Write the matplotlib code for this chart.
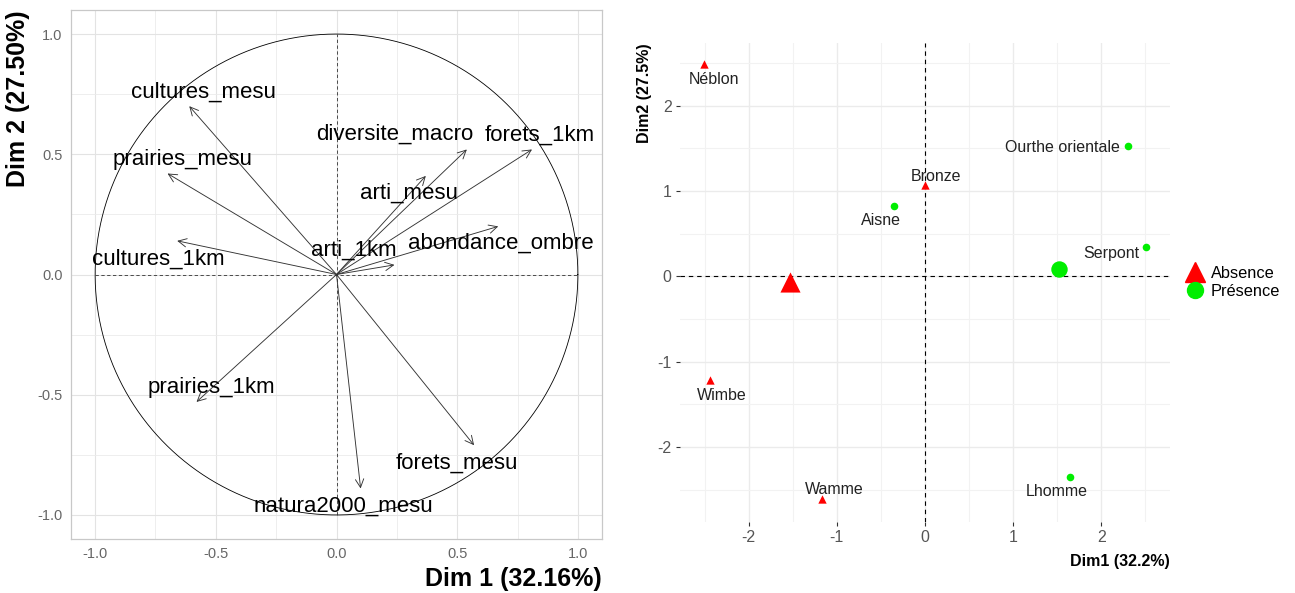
import numpy as np
import matplotlib
matplotlib.use('Agg')
import matplotlib.pyplot as plt
from matplotlib.lines import Line2D

plt.rcParams['font.family'] = ['Liberation Sans', 'DejaVu Sans']
plt.rcParams['axes.unicode_minus'] = False

# variables (correlation circle)
var_names = ['cultures_mesu', 'prairies_mesu', 'cultures_1km', 'diversite_macro',
             'forets_1km', 'arti_mesu', 'abondance_ombre', 'arti_1km',
             'prairies_1km', 'forets_mesu', 'natura2000_mesu']
var_dim1 = [-0.61, -0.70, -0.66, 0.54, 0.81, 0.37, 0.67, 0.24, -0.58, 0.57, 0.10]
var_dim2 = [0.70, 0.42, 0.14, 0.52, 0.52, 0.41, 0.20, 0.04, -0.53, -0.71, -0.89]
var_lab_x = [-0.55, -0.64, -0.74, 0.24, 0.84, 0.30, 0.68, 0.07, -0.52, 0.50, 0.03]
var_lab_y = [0.76, 0.48, 0.065, 0.585, 0.58, 0.34, 0.13, 0.10, -0.47, -0.785, -0.965]

# individuals
ind_names = ['Néblon', 'Ourthe orientale', 'Bronze', 'Aisne', 'Serpont',
             'Wimbe', 'Wamme', 'Lhomme']
ind_dim1 = [-2.51, 2.30, 0.00, -0.35, 2.51, -2.44, -1.17, 1.64]
ind_dim2 = [2.49, 1.53, 1.07, 0.82, 0.35, -1.21, -2.61, -2.35]
ind_group = ['Absence', 'Présence', 'Absence', 'Présence', 'Présence',
             'Absence', 'Absence', 'Présence']
ind_lab_x = [-2.39, 1.565, 0.12, -0.50, 2.11, -2.31, -1.03, 1.50]
ind_lab_y = [2.30, 1.505, 1.175, 0.655, 0.265, -1.39, -2.50, -2.52]

groups = ['Absence', 'Présence']
group_colors = {'Absence': '#FF0000', 'Présence': '#00EE00'}
group_markers = {'Absence': '^', 'Présence': 'o'}

W, H = 1295, 593
fig = plt.figure(figsize=(W / 100, H / 100), dpi=100)

# ---- left panel: variables
ax1 = fig.add_axes([71 / W, (H - 539) / H, 531 / W, 529 / H])
ax1.set_xlim(-1.1, 1.1)
ax1.set_ylim(-1.1, 1.1)
ticks = [-1, -0.5, 0, 0.5, 1]
ax1.set_xticks(ticks)
ax1.set_yticks(ticks)
ax1.set_xticklabels(['-1.0', '-0.5', '0.0', '0.5', '1.0'])
ax1.set_yticklabels(['-1.0', '-0.5', '0.0', '0.5', '1.0'])
ax1.set_xticks([-0.75, -0.25, 0.25, 0.75], minor=True)
ax1.set_yticks([-0.75, -0.25, 0.25, 0.75], minor=True)
ax1.grid(which='major', color='#E3E3E3', lw=0.8)
ax1.grid(which='minor', color='#EBEBEB', lw=0.6)
ax1.set_axisbelow(True)
ax1.tick_params(which='both', length=0, labelsize=10.5, labelcolor='#666666', pad=6)
for s in ax1.spines.values():
    s.set_color('#C8C8C8')
    s.set_linewidth(0.9)

theta = np.linspace(0, 2 * np.pi, 400)
ax1.plot(np.cos(theta), np.sin(theta), color='black', lw=0.6)
ax1.hlines(0, -1, 1, color='#333333', lw=0.6, linestyles=(0, (4, 3)))
ax1.vlines(0, -1, 1, color='#333333', lw=0.6, linestyles=(0, (4, 3)))

for name, x, y, lx, ly in zip(var_names, var_dim1, var_dim2, var_lab_x, var_lab_y):
    ax1.annotate('', xy=(x, y), xytext=(0, 0),
                 arrowprops=dict(arrowstyle='->,head_length=0.6,head_width=0.3',
                                 color='#333333', lw=0.65, shrinkA=0, shrinkB=0))
    ax1.text(lx, ly, name, ha='center', va='center', fontsize=16, color='black')

ax1.set_xlabel('Dim 1 (32.16%)', loc='right', fontsize=18, fontweight='bold', labelpad=4)
ax1.set_ylabel('Dim 2 (27.50%)', loc='top', fontsize=18, fontweight='bold', labelpad=5)

# ---- right panel: individuals
ax2 = fig.add_axes([680 / W, (H - 522) / H, 490 / W, 479 / H])
ax2.set_xlim(-2.78, 2.78)
ax2.set_ylim(-2.876, 2.733)
ax2.set_xticks([-2, -1, 0, 1, 2])
ax2.set_yticks([-2, -1, 0, 1, 2])
ax2.set_xticks([-2.5, -1.5, -0.5, 0.5, 1.5, 2.5], minor=True)
ax2.set_yticks([-2.5, -1.5, -0.5, 0.5, 1.5, 2.5], minor=True)
ax2.grid(which='major', color='#EBEBEB', lw=1.0)
ax2.grid(which='minor', color='#F2F2F2', lw=0.8)
ax2.set_axisbelow(True)
ax2.tick_params(which='major', length=3, width=0.8, color='#333333',
                labelsize=11.5, labelcolor='#555555', pad=3)
ax2.tick_params(which='minor', length=0)
for s in ax2.spines.values():
    s.set_visible(False)

ax2.axhline(0, color='black', lw=0.8, ls=(0, (4, 3.5)))
ax2.axvline(0, color='black', lw=0.8, ls=(0, (4, 3.5)))

dim1 = np.array(ind_dim1)
dim2 = np.array(ind_dim2)
grp = np.array(ind_group)
for g in groups:
    m = grp == g
    ax2.scatter(dim1[m], dim2[m], marker=group_markers[g], color=group_colors[g],
                s=36 if g == 'Absence' else 30, zorder=3, linewidths=0)
    ax2.scatter(dim1[m].mean(), dim2[m].mean(), marker=group_markers[g],
                color=group_colors[g], s=210 if g == 'Absence' else 140,
                zorder=3, linewidths=0)

for name, lx, ly in zip(ind_names, ind_lab_x, ind_lab_y):
    ax2.text(lx, ly, name, ha='center', va='center', fontsize=11.5, color='#222222')

ax2.set_xlabel('Dim1 (32.2%)', loc='right', fontsize=11.5, fontweight='bold', labelpad=6)
ax2.set_ylabel('Dim2 (27.5%)', loc='top', fontsize=11.5, fontweight='bold', labelpad=4)

handles = [Line2D([], [], ls='', marker=group_markers[g], color=group_colors[g],
                  markersize=15 if g == 'Absence' else 11.5) for g in groups]
ax2.legend(handles, groups, loc='center left', bbox_to_anchor=(1.03, 0.5),
           frameon=False, fontsize=11.8, handlelength=1.2, handletextpad=0.4,
           labelspacing=0.2, borderpad=0, borderaxespad=0)

fig.savefig('out.png', dpi=100)
